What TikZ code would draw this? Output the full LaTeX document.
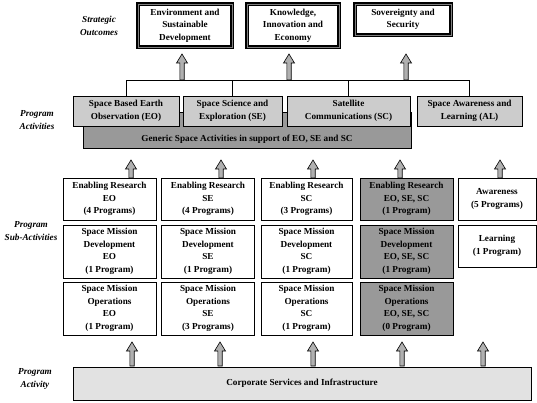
\documentclass[tikz,border=0pt]{standalone}
\usepackage{fontspec}
\setmainfont{Liberation Serif}
\usepackage{xcolor}

\definecolor{actgray}{RGB}{204,204,204}
\definecolor{gengray}{RGB}{153,153,153}
\definecolor{corpgray}{RGB}{226,226,226}
\definecolor{arrgray}{RGB}{176,176,176}

% hollow up arrow: x, bottom y, tip y
\newcommand{\blockarrow}[3]{%
  \draw[fill=arrgray, line width=0.6pt] (#1-2.2,#2) -- (#1-2.2,#3+9) -- (#1-5.5,#3+9)
    -- (#1,#3) -- (#1+5.5,#3+9) -- (#1+2.2,#3+9) -- (#1+2.2,#2) -- cycle;}

\begin{document}
\begin{tikzpicture}[x=1pt, y=-1pt,
    every node/.style={font=\bfseries\fontsize{9.2}{12.5}\selectfont, align=center, inner sep=1pt},
    outcome/.style={draw, line width=1.3pt, double=gray, double distance=0.9pt},
    actbox/.style={draw, line width=0.7pt, fill=actgray, minimum height=30pt},
    genbox/.style={draw, line width=0.7pt, fill=gengray, minimum width=328pt,
      text height=27pt, text depth=3pt, inner ysep=3pt},
    subbox/.style={draw, line width=0.7pt, fill=white, minimum width=93pt},
    allbox/.style={subbox, fill=gengray},
    level/.style={font=\bfseries\itshape\fontsize{9.2}{12.5}\selectfont}]
        \useasboundingbox (0,0) rectangle (537,403);

        % Strategic outcomes
        \node[level] (lvlout) at (99,26) {Strategic\\Outcomes};
        \node[outcome, minimum width=94pt, minimum height=43pt] (env) at (185,25.5) {Environment and\\Sustainable\\Development};
        \node[outcome, minimum width=92pt, minimum height=43pt] (know) at (293,25.5) {Knowledge,\\Innovation and\\Economy};
        \node[outcome, minimum width=96pt, minimum height=31pt] (sov) at (403,19.5) {Sovereignty and\\Security};

        \blockarrow{182}{80}{54}
        \blockarrow{289}{80}{54}
        \blockarrow{406}{80}{54}

        % Program activities
        \node[level] (lvlact) at (37,120) {Program\\Activities};
        \node[genbox] (gen) at (247,130) {Generic Space Activities in support of EO, SE and SC};
        \node[actbox, minimum width=106pt] (eo) at (126,111) {Space Based Earth\\Observation (EO)};
        \node[actbox, minimum width=99pt] (se) at (232.5,111) {Space Science and\\Exploration (SE)};
        \node[actbox, minimum width=123pt] (sc) at (348.5,111) {Satellite\\Communications (SC)};
        \node[actbox, minimum width=105pt] (al) at (469.5,111) {Space Awareness and\\Learning (AL)};

        \coordinate (bus) at (0,80);
        \draw[line width=0.7pt] (eo.north) -- (eo.north |- bus) -- (al.north |- bus) -- (al.north);
        \draw[line width=0.7pt] (se.north) -- (se.north |- bus);
        \draw[line width=0.7pt] (sc.north) -- (sc.north |- bus);

        \blockarrow{131}{178}{160}
        \blockarrow{221}{178}{160}
        \blockarrow{313}{178}{160}
        \blockarrow{400}{178}{160}
        \blockarrow{500}{178}{160}

        % Program sub-activities
        \node[level] (lvlsub) at (31,231) {Program\\Sub-Activities};
        \node[subbox, minimum height=42pt] (eores) at (109.5,199) {Enabling Research\\EO\\(4 Programs)};
        \node[subbox, minimum height=53pt] (eodev) at (109.5,251.5) {Space Mission\\Development\\EO\\(1 Program)};
        \node[subbox, minimum height=53pt] (eoops) at (109.5,308.5) {Space Mission\\Operations\\EO\\(1 Program)};
        \node[subbox, minimum height=42pt] (seres) at (208,199) {Enabling Research\\SE\\(4 Programs)};
        \node[subbox, minimum height=53pt] (sedev) at (208,251.5) {Space Mission\\Development\\SE\\(1 Program)};
        \node[subbox, minimum height=53pt] (seops) at (208,308.5) {Space Mission\\Operations\\SE\\(3 Programs)};
        \node[subbox, minimum width=91pt, minimum height=42pt] (scres) at (306.5,199) {Enabling Research\\SC\\(3 Programs)};
        \node[subbox, minimum width=91pt, minimum height=53pt] (scdev) at (306.5,251.5) {Space Mission\\Development\\SC\\(1 Program)};
        \node[subbox, minimum width=91pt, minimum height=53pt] (scops) at (306.5,308.5) {Space Mission\\Operations\\SC\\(1 Program)};
        \node[allbox, minimum height=42pt] (allres) at (406.5,199) {Enabling Research\\EO, SE, SC\\(1 Program)};
        \node[allbox, minimum height=53pt] (alldev) at (406.5,251.5) {Space Mission\\Development\\EO, SE, SC\\(1 Program)};
        \node[allbox, minimum height=53pt] (allops) at (406.5,308.5) {Space Mission\\Operations\\EO, SE, SC\\(0 Program)};
        \node[subbox, minimum width=78pt, minimum height=42pt] (aware) at (497,199) {Awareness\\(5 Programs)};
        \node[subbox, minimum width=78pt, minimum height=42pt] (learn) at (497,246) {Learning\\(1 Program)};

        \blockarrow{132}{366}{342}
        \blockarrow{220}{366}{342}
        \blockarrow{313}{366}{342}
        \blockarrow{402}{366}{342}
        \blockarrow{483}{366}{342}

        % Program activity
        \node[level] (lvlcorp) at (35,379) {Program\\Activity};
        \node[draw, line width=0.7pt, fill=corpgray, minimum width=458pt, minimum height=33pt] (corp) at (302,383.5) {Corporate Services and Infrastructure};
    \end{tikzpicture}
\end{document}
